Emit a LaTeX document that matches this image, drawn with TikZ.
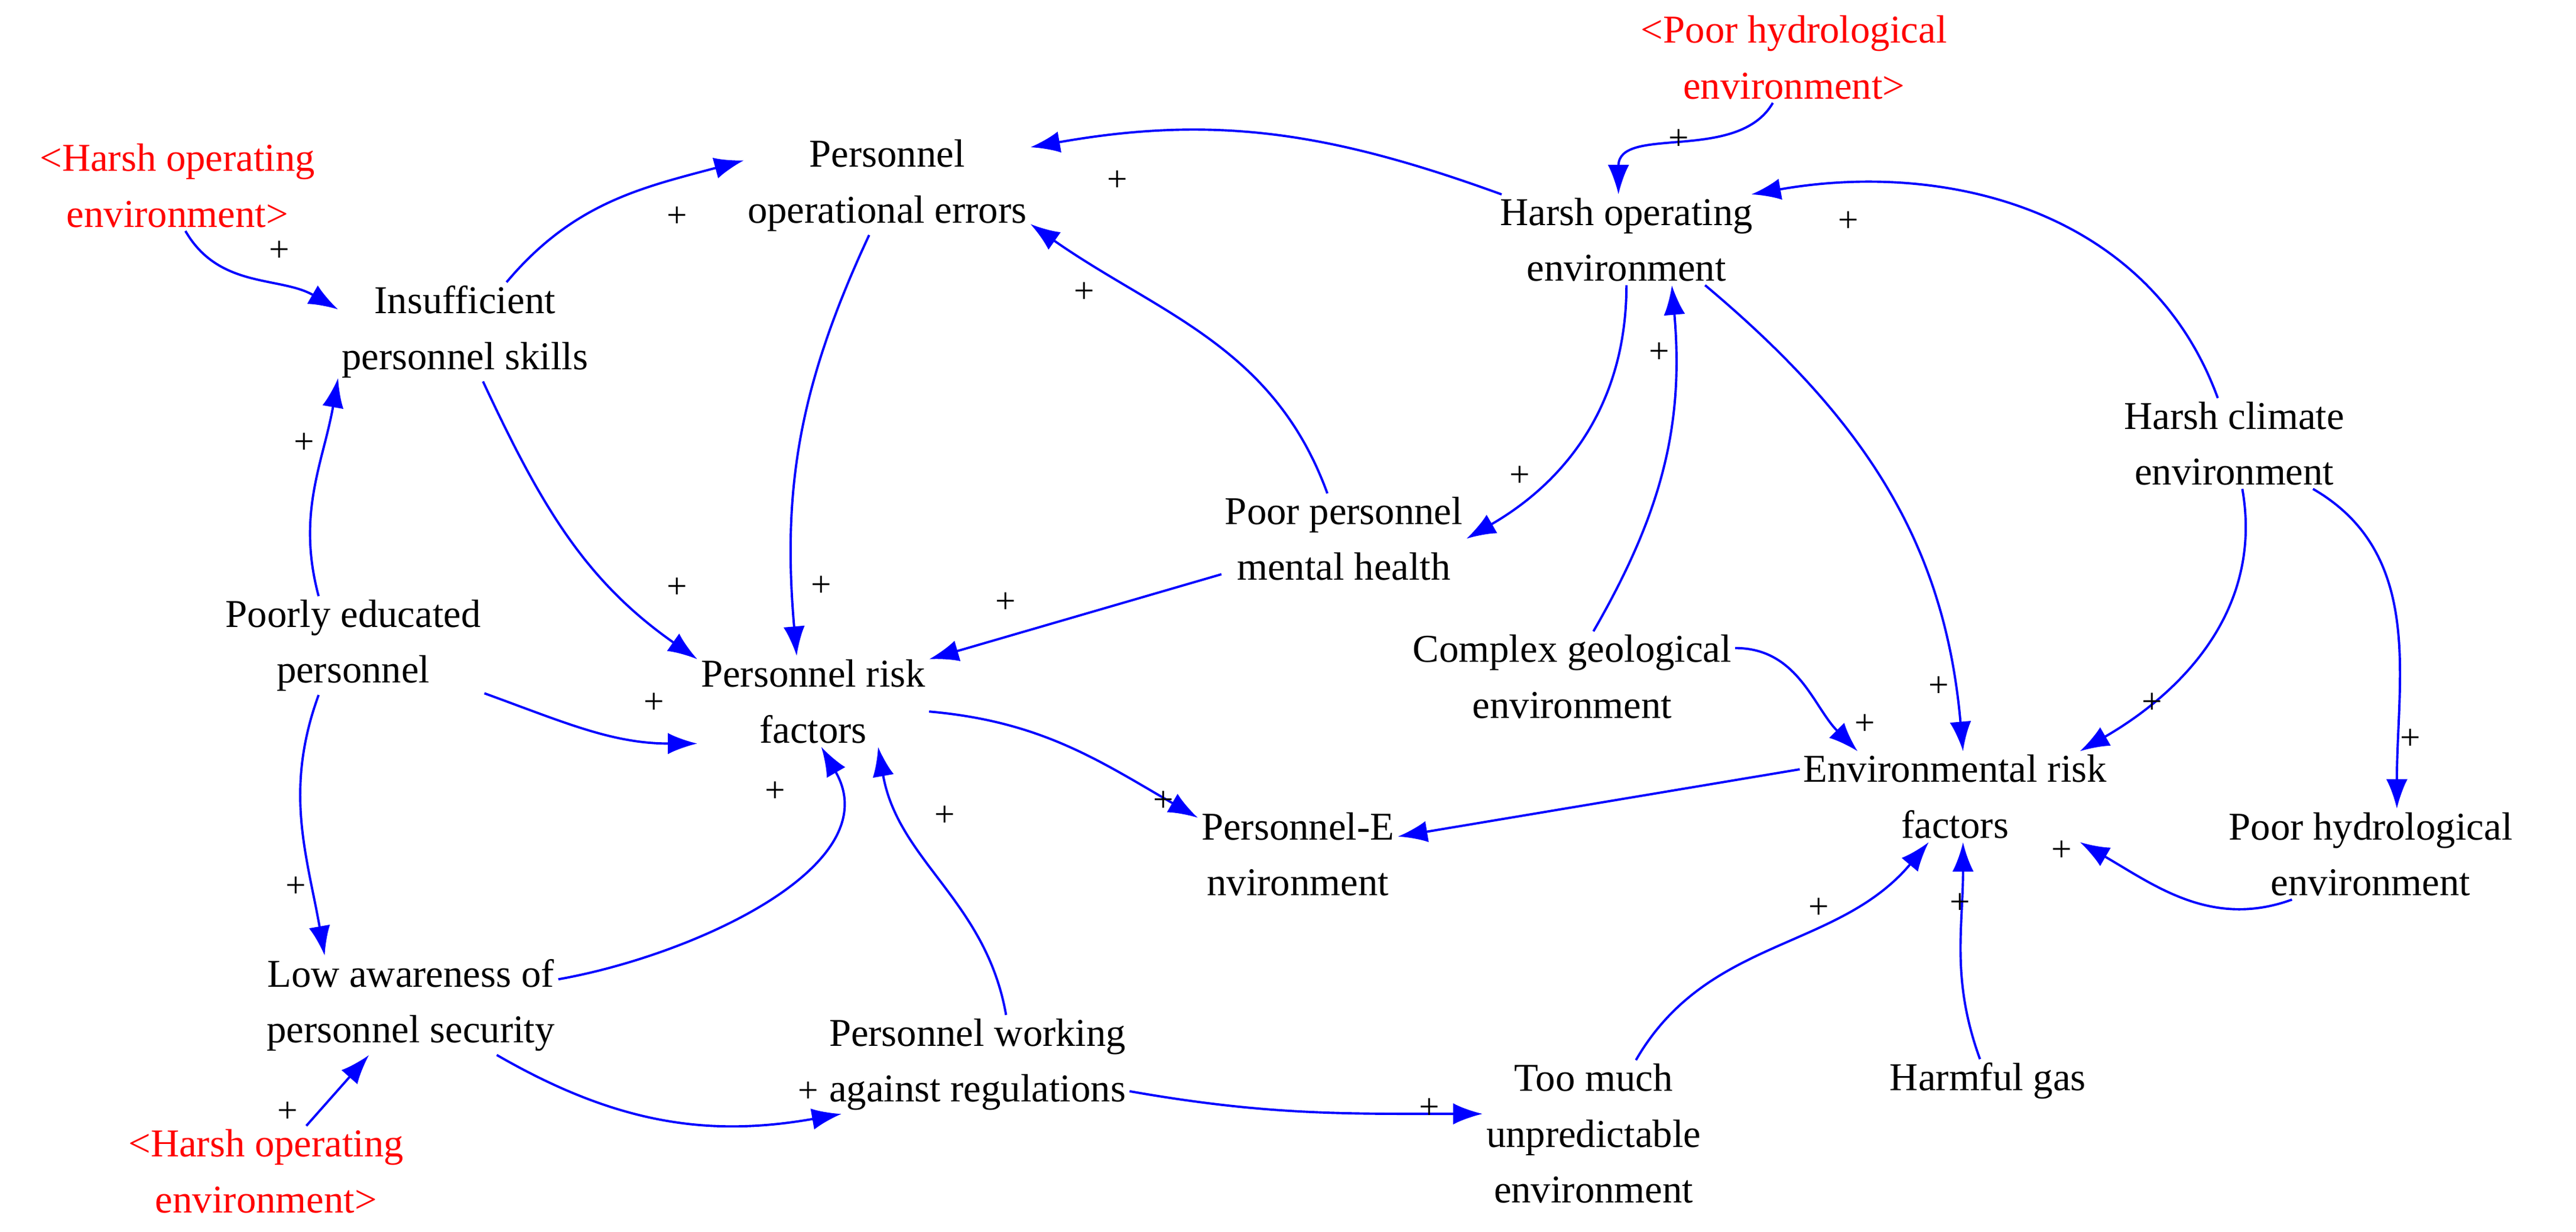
\documentclass[tikz,border=0pt]{standalone}
\usepackage{fontspec}
\setmainfont{Liberation Serif}
\usetikzlibrary{arrows.meta}
\begin{document}
\begin{tikzpicture}[x=1pt,y=1pt,
  v/.style={align=center,inner sep=2pt,font=\fontsize{24}{34}\selectfont},
  r/.style={v,text=red},
  pl/.style={inner sep=0pt,font=\fontsize{22}{22}\selectfont},
  a/.style={draw={rgb,255:red,0;green,0;blue,255},line width=1.4pt,-{Latex[length=18pt,width=13pt]}}]
\useasboundingbox (0,0) rectangle (1568,750);
\newcommand{\Y}[1]{750-#1}
\node[r] (hoe1) at (108,{\Y{113}}) {<Harsh operating\\environment>};
\node[r] (phe1) at (1092,{\Y{35}}) {<Poor hydrological\\environment>};
\node[v] (poe) at (540,{\Y{113}}) {Personnel\\operational errors};
\node[v] (hoe) at (990,{\Y{146}}) {Harsh operating\\environment};
\node[v] (iss) at (283,{\Y{202}}) {Insufficient\\personnel skills};
\node[v] (hce) at (1360,{\Y{270}}) {Harsh climate\\environment};
\node[v] (ppmh) at (818,{\Y{328}}) {Poor personnel\\mental health};
\node[v] (pep) at (215,{\Y{393}}) {Poorly educated\\personnel};
\node[v] (cge) at (957,{\Y{412}}) {Complex geological\\environment};
\node[v] (prf) at (495,{\Y{427}}) {Personnel risk\\factors};
\node[v] (erf) at (1190,{\Y{485}}) {Environmental risk\\factors};
\node[v] (pe) at (790,{\Y{520}}) {Personnel-E\\nvironment};
\node[v] (phe) at (1443,{\Y{520}}) {Poor hydrological\\environment};
\node[v] (laps) at (250,{\Y{612}}) {Low awareness of\\personnel security};
\node[v] (pwar) at (595,{\Y{648}}) {Personnel working\\against regulations};
\node[v] (tmue) at (970,{\Y{690}}) {Too much\\unpredictable\\environment};
\node[v] (hg) at (1210,{\Y{658}}) {Harmful gas};
\node[r] (hoe2) at (162,{\Y{713}}) {<Harsh operating\\environment>};
\draw[a] (hoe1.-80) to[out=-60,in=150] (iss.170);
\draw[a] (iss.50) to[out=50,in=195] (poe.170);
\draw[a] (hoe.160) to[out=160,in=10] (poe.15);
\draw[a] (ppmh.110) to[out=110,in=-35] (poe.-15);
\draw[a] (poe.-110) to[out=-115,in=95] (prf.110);
\draw[a] (iss.-70) to[out=-65,in=145] (prf.160);
\draw[a] (pep.125) to[out=105,in=-100] (iss.200);
\draw[a] (pep.-20) to[out=-20,in=180] (prf.200);
\draw[a] (pep.235) to[out=-110,in=100] (laps.150);
\draw[a] (ppmh) -- (prf.20);
\draw[a] (laps.10) to[out=10,in=-60] (prf.-80);
\draw[a] (pwar.60) to[out=100,in=-80] (prf.-35);
\draw[a] (prf.-5) to[out=-5,in=150] (pe.160);
\draw[a] (laps.-30) to[out=-30,in=190] (pwar.200);
\draw[a] (pwar.-10) to[out=-10,in=180] (tmue.170);
\draw[a] (hoe2) -- (laps.-130);
\draw[a] (phe1.-115) to[out=-120,in=90] (hoe.100);
\draw[a] (hce.110) to[out=110,in=10] (hoe.20);
\draw[a] (hoe.-90) to[out=-90,in=30] (ppmh.east);
\draw[a] (cge.65) to[out=60,in=-85] (hoe.-45);
\draw[a] (hoe.-30) to[out=-40,in=95] (erf.80);
\draw[a] (cge.10) to[out=0,in=135] (erf.155);
\draw[a] (hce.-80) to[out=-80,in=30] (erf.20);
\draw[a] (hce.-30) to[out=-30,in=90] (phe.60);
\draw[a] (erf.170) -- (pe.10);
\draw[a] (phe.-150) to[out=-160,in=-30] (erf.-20);
\draw[a] (hg) to[out=110,in=-90] (erf.-80);
\draw[a] (tmue.60) to[out=60,in=-130] (erf.-120);
\foreach \n/\x/\y in {p1/170/153,p2/412/132,p3/680/110,p4/660/178,p5/500/357,p6/412/358,p7/185/270,p8/398/428,p9/180/540,p10/612/367,p11/472/482,p12/575/497,p13/708/488,p14/492/665,p15/870/675,p16/175/677,p17/1022/85,p18/1125/135,p19/925/290,p20/1010/215,p21/1180/418,p22/1135/441,p23/1310/428,p24/1467/450,p26/1255/518,p27/1193/550,p28/1107/553}
  \node[pl] (\n) at (\x,{\Y{\y}}) {+};
\end{tikzpicture}
\end{document}
